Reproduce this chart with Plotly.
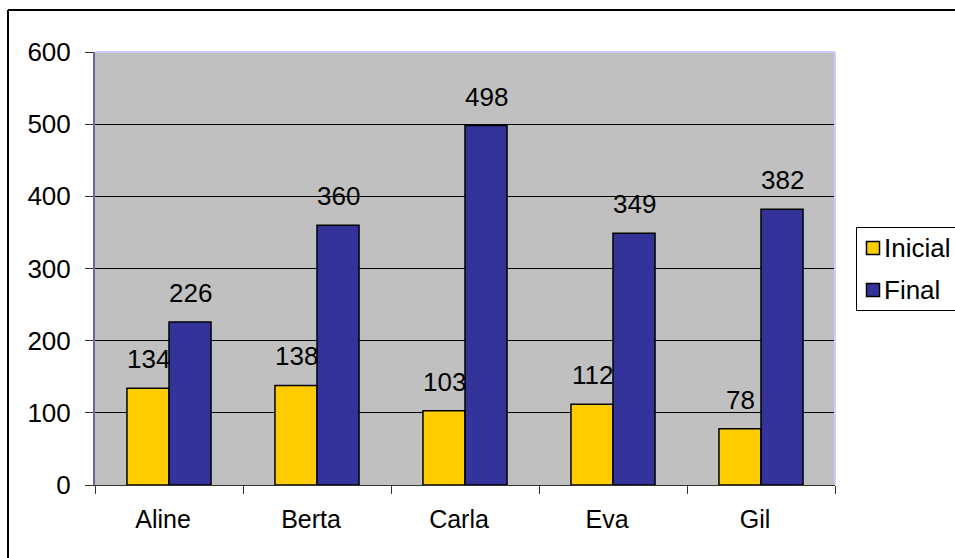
import plotly.graph_objects as go

categories = ["Aline", "Berta", "Carla", "Eva", "Gil"]
inicial = [134, 138, 103, 112, 78]
final = [226, 360, 498, 349, 382]
series_names = ["Inicial", "Final"]
series_colors = ["#FFCC00", "#333399"]
y_ticks = [0, 100, 200, 300, 400, 500, 600]

W, H = 955, 558
L, R, T, B = 95, 835, 52, 485
FONT = dict(family="Liberation Sans, Arial, sans-serif", size=26, color="black")

fig = go.Figure()
for name, vals, col in zip(series_names, (inicial, final), series_colors):
    fig.add_trace(go.Bar(x=categories, y=vals, name=name, showlegend=False,
                         marker=dict(color=col, line=dict(color="black", width=1.5))))

pw, ph = R - L, B - T
def px(x):
    return (x - L) / pw
def py(y):
    return 1 - (y - T) / ph

# value labels
anns = []
for vals, shift in ((inicial, -21), (final, 21)):
    for c, v in zip(categories, vals):
        anns.append(dict(x=c, y=v, text=str(v), showarrow=False, xref="x", yref="y",
                         xanchor="center", yanchor="bottom", xshift=shift, yshift=12,
                         font=FONT))

shapes = [
    # outer chart frame
    dict(type="line", xref="paper", yref="paper", x0=px(8), x1=px(8), y0=py(600), y1=py(10),
         line=dict(color="black", width=2)),
    dict(type="line", xref="paper", yref="paper", x0=px(8), x1=px(1000), y0=py(10), y1=py(10),
         line=dict(color="black", width=2)),
    # plot-area border (top/right)
    dict(type="line", xref="paper", yref="paper", x0=0, x1=1, y0=1, y1=1,
         line=dict(color="#CCCCFF", width=2)),
    dict(type="line", xref="paper", yref="paper", x0=1, x1=1, y0=0, y1=1,
         line=dict(color="#CCCCFF", width=2)),
    # legend box
    dict(type="rect", xref="paper", yref="paper", x0=px(856.5), x1=px(1000), y0=py(310.5), y1=py(227.5),
         line=dict(color="black", width=1), fillcolor="white"),
]

# legend entries
for i, (name, col) in enumerate(zip(series_names, series_colors)):
    cy = 248 + 42 * i
    shapes.append(dict(type="rect", xref="paper", yref="paper",
                       x0=px(866.5), x1=px(879.5), y0=py(cy + 6.5), y1=py(cy - 6.5),
                       line=dict(color="black", width=1.5), fillcolor=col))
    anns.append(dict(x=px(882), y=py(cy), xref="paper", yref="paper", text=name,
                     showarrow=False, xanchor="left", yanchor="middle", font=FONT))

fig.update_layout(
    width=W, height=H,
    margin=dict(l=L, r=W - R, t=T, b=H - B, pad=0, autoexpand=False),
    paper_bgcolor="white", plot_bgcolor="#C0C0C0",
    barmode="group", bargap=0.432, bargroupgap=0,
    font=FONT,
    annotations=anns, shapes=shapes,
    showlegend=False,
)
fig.update_xaxes(showline=True, linecolor="#333333", linewidth=1, ticks="outside",
                 tickson="boundaries", ticklen=8, tickcolor="#333333", showgrid=False,
                 ticklabelstandoff=12, ticklabelshift=-6,
                 tickfont=dict(family=FONT["family"], size=25, color="black"))
fig.update_yaxes(range=[0, 600], tickvals=y_ticks, showline=True, linecolor="#666699",
                 linewidth=2, ticks="outside", ticklen=8, tickcolor="#333333",
                 showgrid=True, gridcolor="black", gridwidth=1, zeroline=False,
                 ticklabelstandoff=9, tickfont=FONT)

fig.write_html("out.html")
